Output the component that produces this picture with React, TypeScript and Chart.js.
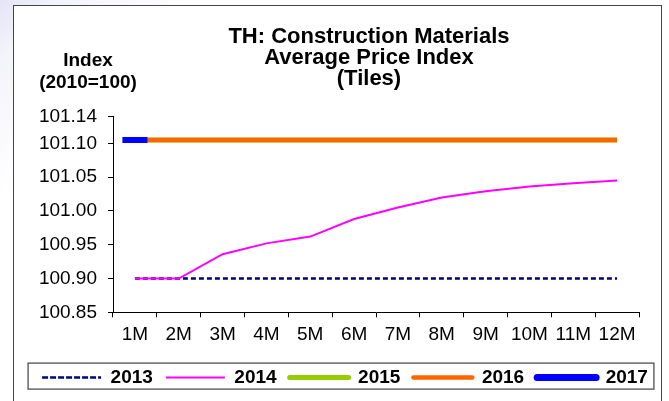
import React, { useEffect, useRef } from "react";
import { Chart, registerables } from "chart.js";

Chart.register(...registerables);

const FONT = "'Liberation Sans', Arial, Helvetica, sans-serif";

const categories = ["1M", "2M", "3M", "4M", "5M", "6M", "7M", "8M", "9M", "10M", "11M", "12M"];
const values2013 = [100.9, 100.9, 100.9, 100.9, 100.9, 100.9, 100.9, 100.9, 100.9, 100.9, 100.9, 100.9];
const values2014 = [100.9, 100.9, 100.936, 100.952, 100.962, 100.988, 101.005, 101.02, 101.029, 101.036, 101.041, 101.045];
const values2015 = [101.105, 101.105, 101.105, 101.105, 101.105, 101.105, 101.105, 101.105, 101.105, 101.105, 101.105, 101.105];
const values2016 = [101.105, 101.105, 101.105, 101.105, 101.105, 101.105, 101.105, 101.105, 101.105, 101.105, 101.105, 101.105];
const values2017 = [101.105, null, null, null, null, null, null, null, null, null, null, null];
const seriesNames = ["2013", "2014", "2015", "2016", "2017"];
const yTicks = [100.85, 100.9, 100.95, 101.0, 101.05, 101.1, 101.14];
const yMin = 100.85;
const yMax = 101.14;
const titleLines = ["TH: Construction Materials", "Average Price Index", "(Tiles)"];
const unitLines = ["Index", "(2010=100)"];

const legendFrame = {
  id: "legendFrame",
  afterDraw(chart: any) {
    const hb = chart.legend && chart.legend.legendHitBoxes;
    if (!hb || !hb.length) return;
    const first = hb[0];
    const last = hb[hb.length - 1];
    const left = first.left - 14;
    const right = last.left + last.width + 6;
    const cy = first.top + first.height / 2;
    const ctx = chart.ctx;
    ctx.save();
    ctx.strokeStyle = "#505050";
    ctx.lineWidth = 1.3;
    ctx.setLineDash([]);
    ctx.strokeRect(left, cy - 14.4, right - left, 26);
    ctx.restore();
  },
};

export default function App() {
  const ref = useRef<HTMLCanvasElement>(null);

  useEffect(() => {
    Chart.defaults.font.family = FONT;
    Chart.defaults.color = "#000";
    const chart = new Chart(ref.current as HTMLCanvasElement, {
      type: "line",
      data: {
        labels: categories,
        datasets: [
          {
            label: seriesNames[0],
            data: values2013,
            borderColor: "#000080",
            backgroundColor: "rgba(0,0,0,0)",
            borderWidth: 2.5,
            borderDash: [5, 3],
            pointRadius: 0,
            tension: 0,
            order: 4,
            yAxisID: "y",
          },
          {
            label: seriesNames[1],
            data: values2014,
            borderColor: "#FF00FF",
            backgroundColor: "rgba(0,0,0,0)",
            borderWidth: 2,
            pointRadius: 0,
            tension: 0,
            order: 3,
            yAxisID: "y",
          },
          {
            label: seriesNames[2],
            data: values2015,
            borderColor: "#99CC00",
            backgroundColor: "rgba(0,0,0,0)",
            borderWidth: 5,
            borderCapStyle: "butt",
            borderJoinStyle: "round",
            pointRadius: 0,
            tension: 0,
            order: 2,
            yAxisID: "y",
          },
          {
            label: seriesNames[3],
            data: values2016,
            borderColor: "#FF6600",
            backgroundColor: "rgba(0,0,0,0)",
            borderWidth: 4.5,
            borderCapStyle: "butt",
            borderJoinStyle: "round",
            pointRadius: 0,
            tension: 0,
            order: 1,
            yAxisID: "y",
          },
          {
            label: seriesNames[4],
            data: values2017,
            borderColor: "#0000FF",
            backgroundColor: "rgba(0,0,0,0)",
            borderWidth: 7,
            borderCapStyle: "butt",
            borderJoinStyle: "round",
            pointStyle: "line",
            pointRadius: 12.5,
            pointBorderWidth: 6,
            pointBorderColor: "#0000FF",
            pointBackgroundColor: "#0000FF",
            tension: 0,
            order: 0,
            yAxisID: "y",
          },
        ] as any,
      },
      options: {
        responsive: false,
        animation: false,
        devicePixelRatio: 1,
        events: [],
        layout: { padding: { top: 116.3, bottom: 4, left: 0, right: 0 } },
        plugins: {
          title: { display: false },
          tooltip: { enabled: false },
          legend: {
            display: true,
            position: "bottom",
            labels: {
              boxWidth: 59,
              boxHeight: 0,
              padding: 13,
              color: "#000",
              font: { size: 19, weight: "bold", family: FONT },
              sort: (a: any, b: any) => a.datasetIndex - b.datasetIndex,
            },
          },
        },
        scales: {
          x: {
            type: "category",
            offset: true,
            grid: { offset: true, drawOnChartArea: false, drawTicks: true, tickLength: 5, color: "#000" },
            border: { display: true, color: "#000", width: 1 },
            ticks: { color: "#000", font: { size: 19, family: FONT }, padding: 6, maxRotation: 0, autoSkip: false },
            afterFit: (s: any) => {
              s.height = 42.7;
            },
          },
          y: {
            type: "linear",
            position: "left",
            min: yMin,
            max: yMax,
            afterBuildTicks: (s: any) => {
              s.ticks = yTicks.map((v) => ({ value: v }));
            },
            grid: { drawOnChartArea: false, drawTicks: true, tickLength: 5, color: "#000" },
            border: { display: true, color: "#000", width: 1 },
            ticks: {
              color: "#000",
              font: { size: 19, family: FONT },
              padding: 11,
              callback: (v: any) => Number(v).toFixed(2),
            },
            afterFit: (s: any) => {
              s.width = 113;
            },
          },
          y2: {
            type: "linear",
            position: "right",
            display: true,
            grid: { display: false },
            border: { display: false },
            ticks: { display: false },
            afterFit: (s: any) => {
              s.width = 51;
            },
          },
        },
      } as any,
      plugins: [legendFrame],
    });
    return () => chart.destroy();
  }, []);

  return (
    <div
      style={{
        position: "fixed",
        left: 0,
        top: 0,
        width: 669,
        height: 401,
        overflow: "hidden",
        background: "linear-gradient(135deg, #e4e4f6 0px, #f3f3fb 40px, #ffffff 140px)",
      }}
    >
      <div
        style={{
          position: "absolute",
          left: 13,
          top: 5,
          width: 647,
          height: 500,
          border: "1.5px solid #454545",
          background: "#fff",
        }}
      />
      <canvas
        ref={ref}
        width={690}
        height={401}
        style={{ position: "absolute", left: 0, top: 0, width: 690, height: 401 }}
      />
      <div
        style={{
          position: "absolute",
          left: 169,
          top: 25,
          width: 400,
          textAlign: "center",
          fontFamily: FONT,
          fontWeight: "bold",
          fontSize: 22,
          lineHeight: "21.2px",
          color: "#000",
        }}
      >
        {titleLines.map((t) => (
          <div key={t}>{t}</div>
        ))}
      </div>
      <div
        style={{
          position: "absolute",
          left: 18,
          top: 49,
          width: 140,
          textAlign: "center",
          fontFamily: FONT,
          fontWeight: "bold",
          fontSize: 19,
          lineHeight: "22.3px",
          color: "#000",
        }}
      >
        {unitLines.map((t) => (
          <div key={t}>{t}</div>
        ))}
      </div>
    </div>
  );
}
